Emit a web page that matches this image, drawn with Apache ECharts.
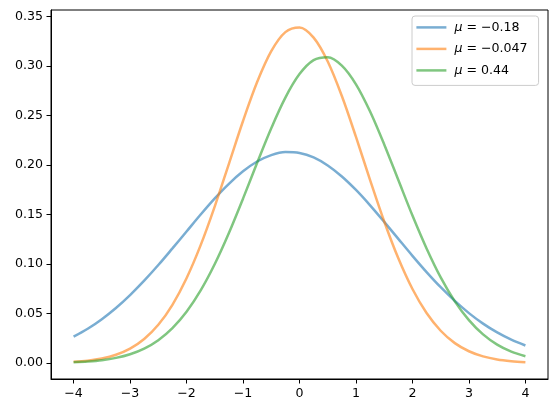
<!DOCTYPE html>
<html>
<head>
<meta charset="utf-8">
<script src="https://cdn.jsdelivr.net/npm/echarts@6/dist/echarts.min.js"></script>
<style>
html,body{margin:0;padding:0;background:#fff;}
#chart{width:556px;height:413px;}
</style>
</head>
<body>
<div id="chart"></div>
<script>
// x positions
var xs = [-4, -3.75, -3.5, -3.25, -3, -2.75, -2.5, -2.25, -2, -1.75, -1.5, -1.25, -1, -0.75, -0.5, -0.25,
          0, 0.25, 0.5, 0.75, 1, 1.25, 1.5, 1.75, 2, 2.25, 2.5, 2.75, 3, 3.25, 3.5, 3.75, 4];
// series values
var blueY   = [0.0266, 0.0346, 0.0443, 0.0556, 0.0686, 0.0831, 0.0989, 0.1157, 0.1328, 0.1499, 0.1662, 0.1809, 0.1935, 0.2034, 0.2099, 0.2129,
               0.2120, 0.2075, 0.1994, 0.1883, 0.1747, 0.1592, 0.1425, 0.1253, 0.1082, 0.0918, 0.0765, 0.0627, 0.0504, 0.0398, 0.0309, 0.0236, 0.0177];
var orangeY = [0.0012, 0.0024, 0.0046, 0.0084, 0.0146, 0.0243, 0.0386, 0.0588, 0.0856, 0.1190, 0.1582, 0.2011, 0.2443, 0.2836, 0.3148, 0.3340,
               0.3387, 0.3284, 0.3043, 0.2695, 0.2282, 0.1847, 0.1429, 0.1057, 0.0747, 0.0505, 0.0326, 0.0201, 0.0119, 0.0067, 0.0036, 0.0019, 0.0009];
var greenY  = [0.0008, 0.0016, 0.0029, 0.0052, 0.0089, 0.0146, 0.0231, 0.0353, 0.0518, 0.0733, 0.0999, 0.1312, 0.1659, 0.2021, 0.2370, 0.2679,
               0.2916, 0.3057, 0.3087, 0.3002, 0.2813, 0.2538, 0.2206, 0.1847, 0.1489, 0.1157, 0.0865, 0.0623, 0.0433, 0.0289, 0.0186, 0.0115, 0.0069];
var seriesNames = ['μ = −0.18', 'μ = −0.047', 'μ = 0.44'];
var xTicks = [-4, -3, -2, -1, 0, 1, 2, 3, 4];
var yTicks = [0, 0.05, 0.10, 0.15, 0.20, 0.25, 0.30, 0.35];

var colors = ['rgba(31,119,180,0.6)', 'rgba(255,127,14,0.6)', 'rgba(44,160,44,0.6)'];
var ys = [blueY, orangeY, greenY];

function pairs(y) { return xs.map(function (x, i) { return [x, y[i]]; }); }

var FONT = 'DejaVu Sans';
var FS = 12.6;

var chart = echarts.init(document.getElementById('chart'), null, {renderer: 'canvas'});
var series = ys.map(function (y, k) {
  return {
    name: seriesNames[k],
    type: 'line',
    data: pairs(y),
    smooth: 0.33,
    symbol: 'none',
    color: colors[k],
    itemStyle: {color: colors[k]},
    lineStyle: {width: 2.5, color: colors[k]},
    z: 2 + k,
    animation: false
  };
});

chart.setOption({
  animation: false,
  backgroundColor: '#fff',
  textStyle: {fontFamily: FONT},
  grid: {left: 51, right: 8, top: 10, bottom: 34, show: true, borderColor: '#000', borderWidth: 1, backgroundColor: 'transparent', containLabel: false},
  xAxis: {
    type: 'value', min: -4.4, max: 4.4,
    axisLine: {show: true, onZero: false, lineStyle: {color: '#000', width: 1}},
    splitLine: {show: false},
    axisTick: {show: true, customValues: xTicks, length: 4.5, lineStyle: {color: '#000', width: 1}},
    axisLabel: {show: true, customValues: xTicks, margin: 8, color: '#000', fontFamily: FONT, fontSize: FS,
      formatter: function (v) { return v < 0 ? '\u2212' + Math.abs(v) : String(v); }}
  },
  yAxis: {
    type: 'value', min: -0.0161, max: 0.3563,
    axisLine: {show: true, onZero: false, lineStyle: {color: '#000', width: 1}},
    splitLine: {show: false},
    axisTick: {show: true, customValues: yTicks, length: 4.5, lineStyle: {color: '#000', width: 1}},
    axisLabel: {show: true, customValues: yTicks, margin: 8, color: '#000', fontFamily: FONT, fontSize: FS,
      formatter: function (v) { return v.toFixed(2); }}
  },
  legend: {
    orient: 'vertical', left: 412, top: 16,
    data: seriesNames.map(function (n, k) { return {name: n, icon: 'rect', itemStyle: {color: colors[k]}}; }),
    itemWidth: 30, itemHeight: 2.5, itemGap: 7.5,
    padding: [4.4, 11, 8, 4.4],
    backgroundColor: 'rgba(255,255,255,0.8)', borderColor: '#cccccc', borderWidth: 1, borderRadius: 3,
    formatter: function (name) { return '{i|μ}{t|' + name.slice(1) + '}'; },
    textStyle: {color: '#000', fontFamily: FONT, fontSize: FS, lineHeight: 14, padding: [0, 0, 0, 3],
      rich: {i: {fontStyle: 'italic', fontFamily: FONT, fontSize: FS, lineHeight: 14, color: '#000'},
             t: {fontFamily: FONT, fontSize: FS, lineHeight: 14, color: '#000'}}}
  },
  series: series
});
</script>
</body>
</html>
